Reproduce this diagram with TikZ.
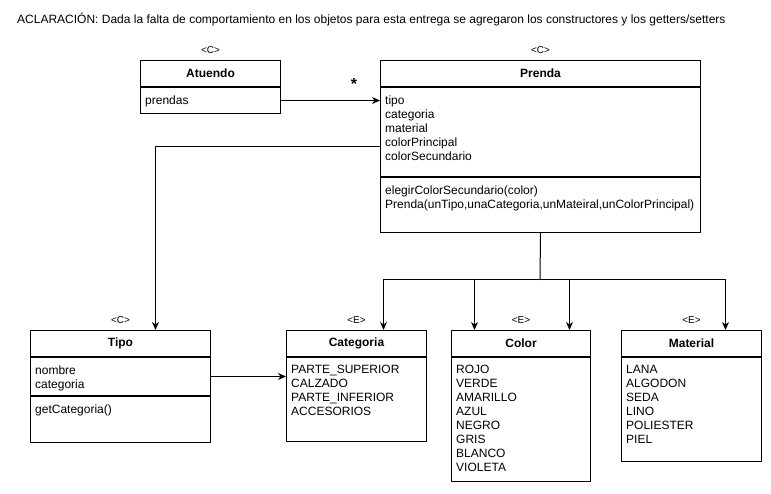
\documentclass[tikz,border=0pt]{standalone}
\usepackage{fontspec}
\setmainfont{Liberation Sans}
\usetikzlibrary{arrows.meta}
\usetikzlibrary{positioning}
\tikzset{>={Stealth[length=8pt,width=7pt,inset=2.5pt]}}
\tikzset{
  head/.style={draw, line width=1pt, inner sep=0pt, minimum height=26pt, anchor=north west, font=\fontsize{12}{14}\selectfont\bfseries},
  part/.style={draw, line width=1pt, inner sep=0pt, anchor=north},
  members/.style={anchor=north west, inner sep=0pt, align=left},
  stereo/.style={font=\fontsize{10}{12}\selectfont, inner sep=0pt, anchor=base, yshift=6.4pt},
  link/.style={->, line width=1pt}
}

\begin{document}
\begin{tikzpicture}[x=1pt, y=-1pt, font=\fontsize{12}{14}\selectfont]
        \fill[white] (0,0) rectangle (771,494);
        \useasboundingbox (0,0) rectangle (771,494);

        \node[anchor=base west, inner sep=0pt] (note) at (17,23.3) {ACLARACIÓN: Dada la falta de comportamiento en los objetos para esta entrega se agregaron los constructores y los getters/setters};

        % Atuendo
        \node[head, minimum width=140pt] (atuendo) at (140,60) {Atuendo};
        \node[part, minimum width=140pt, minimum height=26pt] (atuendo-attr) at (atuendo.south) {};
        \node[members] (atuendo-list) at ([shift={(5,8.3)}]atuendo-attr.north west) {prendas};
        \node[stereo] (atuendo-st) at (atuendo.north) {<C>};

        % Prenda
        \node[head, minimum width=320pt] (prenda) at (380,60) {Prenda};
        \node[part, minimum width=320pt, minimum height=89pt] (prenda-attr) at (prenda.south) {};
        \node[part, minimum width=320pt, minimum height=55pt] (prenda-meth) at (prenda-attr.south) {};
        \node[members] (prenda-list) at ([shift={(5,8.3)}]prenda-attr.north west) {tipo\\categoria\\material\\colorPrincipal\\colorSecundario};
        \node[members] (prenda-ops) at ([shift={(5,8.3)}]prenda-meth.north west) {elegirColorSecundario(color)\\Prenda(unTipo,unaCategoria,unMateiral,unColorPrincipal)};
        \node[stereo] (prenda-st) at (prenda.north) {<C>};

        % Tipo
        \node[head, minimum width=180pt] (tipo) at (30,330) {Tipo};
        \node[part, minimum width=180pt, minimum height=38pt] (tipo-attr) at (tipo.south) {};
        \node[part, minimum width=180pt, minimum height=46pt] (tipo-meth) at (tipo-attr.south) {};
        \node[members] (tipo-list) at ([shift={(5,8.3)}]tipo-attr.north west) {nombre\\categoria};
        \node[members] (tipo-ops) at ([shift={(5,8.3)}]tipo-meth.north west) {getCategoria()};
        \node[stereo] (tipo-st) at (tipo.north) {<C>};

        % Categoria
        \node[head, minimum width=140pt] (categoria) at (286,330) {Categoria};
        \node[part, minimum width=140pt, minimum height=84pt] (categoria-body) at (categoria.south) {};
        \node[members] (categoria-list) at ([shift={(5,8.3)}]categoria-body.north west) {PARTE\_SUPERIOR\\CALZADO\\PARTE\_INFERIOR\\ACCESORIOS};
        \node[stereo] (categoria-st) at (categoria.north) {<E>};

        % Color
        \node[head, minimum width=139pt] (color) at (451,330) {Color};
        \node[part, minimum width=139pt, minimum height=124pt] (color-body) at (color.south) {};
        \node[members] (color-list) at ([shift={(5,8.3)}]color-body.north west) {ROJO\\VERDE\\AMARILLO\\AZUL\\NEGRO\\GRIS\\BLANCO\\VIOLETA};
        \node[stereo] (color-st) at (color.north) {<E>};

        % Material
        \node[head, minimum width=140pt] (material) at (621,330) {Material};
        \node[part, minimum width=140pt, minimum height=104pt] (material-body) at (material.south) {};
        \node[members] (material-list) at ([shift={(5,8.3)}]material-body.north west) {LANA\\ALGODON\\SEDA\\LINO\\POLIESTER\\PIEL};
        \node[stereo] (material-st) at (material.north) {<E>};

        % relaciones
        \draw[link] (atuendo-attr.east) -- (prenda-attr.west |- atuendo-attr.east);
        \node[anchor=base, inner sep=0pt, font=\fontsize{16}{16}\selectfont\bfseries] (mult) at (354,90) {*};
        \draw[link] ([yshift=-14.5pt]prenda-attr.west) -| ([xshift=35pt]tipo.north);
        \draw[link] (tipo-attr.east) -- (categoria-body.west |- tipo-attr.east);

        \coordinate (split) at (540,280);
        \draw[line width=1pt] (prenda-meth.south) -- (split);
        \draw[link] (split) -| ([xshift=27pt]categoria.north);
        \draw[link] (split) -| ([xshift=-46.5pt]color.north);
        \draw[link] (split) -| ([xshift=48.5pt]color.north);
        \draw[link] (split) -| ([xshift=34pt]material.north);
\end{tikzpicture}
\end{document}
